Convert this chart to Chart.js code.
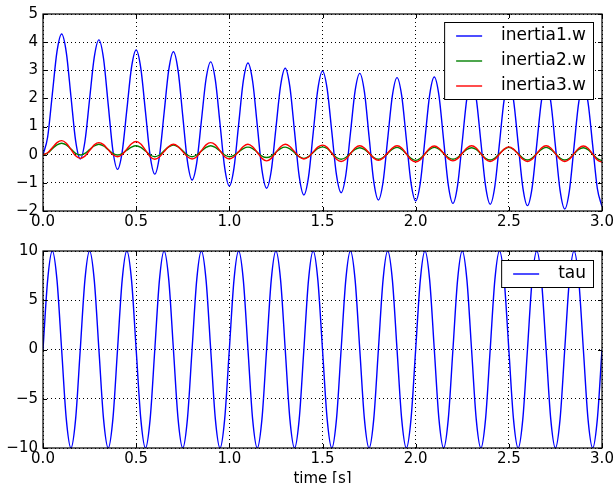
<!DOCTYPE html>
<html>
<head>
<meta charset="utf-8">
<script src="https://cdn.jsdelivr.net/npm/chart.js@4.4.0/dist/chart.umd.min.js"></script>
<style>
html, body { margin: 0; padding: 0; background: #fff; overflow: hidden; }
#top { position: absolute; left: 0; top: 0; }
#bottom { position: absolute; left: 0; top: 235px; }
</style>
</head>
<body>
<canvas id="top" width="616" height="235"></canvas>
<canvas id="bottom" width="616" height="252"></canvas>
<script>
// sample times [s]
const time = [
    0, 0.025, 0.05, 0.075, 0.1, 0.125, 0.15, 0.175,
    0.2, 0.225, 0.25, 0.275, 0.3, 0.325, 0.35, 0.375,
    0.4, 0.425, 0.45, 0.475, 0.5, 0.525, 0.55, 0.575,
    0.6, 0.625, 0.65, 0.675, 0.7, 0.725, 0.75, 0.775,
    0.8, 0.825, 0.85, 0.875, 0.9, 0.925, 0.95, 0.975,
    1.0, 1.025, 1.05, 1.075, 1.1, 1.125, 1.15, 1.175,
    1.2, 1.225, 1.25, 1.275, 1.3, 1.325, 1.35, 1.375,
    1.4, 1.425, 1.45, 1.475, 1.5, 1.525, 1.55, 1.575,
    1.6, 1.625, 1.65, 1.675, 1.7, 1.725, 1.75, 1.775,
    1.8, 1.825, 1.85, 1.875, 1.9, 1.925, 1.95, 1.975,
    2.0, 2.025, 2.05, 2.075, 2.1, 2.125, 2.15, 2.175,
    2.2, 2.225, 2.25, 2.275, 2.3, 2.325, 2.35, 2.375,
    2.4, 2.425, 2.45, 2.475, 2.5, 2.525, 2.55, 2.575,
    2.6, 2.625, 2.65, 2.675, 2.7, 2.725, 2.75, 2.775,
    2.8, 2.825, 2.85, 2.875, 2.9, 2.925, 2.95, 2.975,
    3.0
];

const inertia1 = [
    0, 0.63, 2.15, 3.66, 4.29, 3.64, 2.07, 0.50,
    -0.15, 0.47, 1.97, 3.46, 4.08, 3.41, 1.78, 0.15,
    -0.52, 0.10, 1.60, 3.10, 3.72, 3.07, 1.52, -0.04,
    -0.69, -0.05, 1.49, 3.02, 3.66, 2.99, 1.38, -0.23,
    -0.90, -0.29, 1.20, 2.69, 3.30, 2.65, 1.10, -0.46,
    -1.11, -0.47, 1.08, 2.62, 3.26, 2.61, 1.04, -0.54,
    -1.19, -0.57, 0.94, 2.45, 3.07, 2.41, 0.82, -0.77,
    -1.43, -0.79, 0.77, 2.33, 2.97, 2.34, 0.81, -0.72,
    -1.35, -0.73, 0.77, 2.27, 2.89, 2.23, 0.64, -0.95,
    -1.61, -0.97, 0.57, 2.10, 2.74, 2.10, 0.55, -1.00,
    -1.64, -1.00, 0.56, 2.12, 2.76, 2.10, 0.52, -1.07,
    -1.73, -1.09, 0.46, 2.01, 2.65, 2.00, 0.45, -1.11,
    -1.76, -1.12, 0.42, 1.96, 2.60, 1.95, 0.40, -1.16,
    -1.81, -1.17, 0.37, 1.91, 2.55, 1.89, 0.31, -1.27,
    -1.93, -1.28, 0.29, 1.85, 2.50, 1.86, 0.33, -1.20,
    -1.84
];

const inertia2 = [
    0, 0.06, 0.21, 0.35, 0.41, 0.35, 0.20, 0.05,
    -0.01, 0.05, 0.18, 0.31, 0.37, 0.31, 0.18, 0.05,
    -0.01, 0.04, 0.16, 0.27, 0.32, 0.26, 0.13, -0.01,
    -0.07, -0.01, 0.14, 0.28, 0.34, 0.28, 0.14, -0.01,
    -0.07, -0.01, 0.13, 0.26, 0.32, 0.26, 0.13, -0.01,
    -0.07, -0.02, 0.10, 0.22, 0.27, 0.22, 0.09, -0.05,
    -0.10, -0.05, 0.09, 0.22, 0.27, 0.21, 0.07, -0.07,
    -0.13, -0.07, 0.08, 0.22, 0.28, 0.22, 0.06, -0.10,
    -0.16, -0.10, 0.05, 0.19, 0.25, 0.19, 0.05, -0.10,
    -0.16, -0.10, 0.05, 0.20, 0.26, 0.19, 0.03, -0.13,
    -0.20, -0.13, 0.03, 0.19, 0.26, 0.20, 0.05, -0.10,
    -0.16, -0.10, 0.05, 0.19, 0.25, 0.19, 0.03, -0.13,
    -0.19, -0.12, 0.04, 0.19, 0.26, 0.19, 0.04, -0.12,
    -0.19, -0.12, 0.04, 0.19, 0.26, 0.19, 0.04, -0.12,
    -0.19, -0.13, 0.03, 0.19, 0.25, 0.18, 0.02, -0.14,
    -0.21
];

const inertia3 = [
    0, 0.07, 0.25, 0.43, 0.50, 0.41, 0.19, -0.04,
    -0.13, -0.05, 0.15, 0.35, 0.43, 0.36, 0.18, 0.00,
    -0.07, 0.01, 0.20, 0.39, 0.47, 0.38, 0.16, -0.07,
    -0.16, -0.08, 0.11, 0.29, 0.37, 0.29, 0.11, -0.07,
    -0.15, -0.07, 0.14, 0.35, 0.43, 0.35, 0.14, -0.07,
    -0.15, -0.07, 0.11, 0.29, 0.37, 0.28, 0.08, -0.13,
    -0.22, -0.13, 0.08, 0.28, 0.37, 0.29, 0.11, -0.07,
    -0.15, -0.08, 0.10, 0.27, 0.34, 0.26, 0.05, -0.16,
    -0.24, -0.16, 0.04, 0.24, 0.32, 0.24, 0.06, -0.12,
    -0.20, -0.12, 0.06, 0.24, 0.32, 0.24, 0.03, -0.18,
    -0.26, -0.18, 0.03, 0.23, 0.31, 0.23, 0.05, -0.14,
    -0.22, -0.14, 0.05, 0.24, 0.32, 0.24, 0.04, -0.16,
    -0.24, -0.16, 0.02, 0.20, 0.28, 0.20, 0.02, -0.16,
    -0.24, -0.16, 0.04, 0.24, 0.32, 0.24, 0.04, -0.16,
    -0.24, -0.16, 0.04, 0.23, 0.31, 0.23, 0.02, -0.19,
    -0.27
];

const tau = [
    0, 7.07, 10, 7.07, 0, -7.07, -10, -7.07,
    0, 7.07, 10, 7.07, 0, -7.07, -10, -7.07,
    0, 7.07, 10, 7.07, 0, -7.07, -10, -7.07,
    0, 7.07, 10, 7.07, 0, -7.07, -10, -7.07,
    0, 7.07, 10, 7.07, 0, -7.07, -10, -7.07,
    0, 7.07, 10, 7.07, 0, -7.07, -10, -7.07,
    0, 7.07, 10, 7.07, 0, -7.07, -10, -7.07,
    0, 7.07, 10, 7.07, 0, -7.07, -10, -7.07,
    0, 7.07, 10, 7.07, 0, -7.07, -10, -7.07,
    0, 7.07, 10, 7.07, 0, -7.07, -10, -7.07,
    0, 7.07, 10, 7.07, 0, -7.07, -10, -7.07,
    0, 7.07, 10, 7.07, 0, -7.07, -10, -7.07,
    0, 7.07, 10, 7.07, 0, -7.07, -10, -7.07,
    0, 7.07, 10, 7.07, 0, -7.07, -10, -7.07,
    0, 7.07, 10, 7.07, 0, -7.07, -10, -7.07,
    0
];

const xTicks = [0, 0.5, 1, 1.5, 2, 2.5, 3];
const yTicksTop = [-2, -1, 0, 1, 2, 3, 4, 5];
const yTicksBottom = [-10, -5, 0, 5, 10];

const FONT = 'DejaVu Sans';

function points(values) {
    return values.map((v, i) => ({ x: time[i], y: v }));
}

function minus(v) {
    return String(v).replace('-', '\u2212');
}

// frame, inward ticks and a matplotlib style legend box
const framePlugin = {
    id: 'frame',
    afterDatasetsDraw(chart) {
        const { ctx, chartArea: a } = chart;
        const xs = chart.scales.x, ys = chart.scales.y;
        ctx.save();
        ctx.strokeStyle = '#000';
        ctx.lineWidth = 1;
        ctx.beginPath();
        xs.ticks.forEach(t => {
            const px = Math.round(xs.getPixelForValue(t.value)) + 0.5;
            ctx.moveTo(px, a.bottom); ctx.lineTo(px, a.bottom - 4);
            ctx.moveTo(px, a.top); ctx.lineTo(px, a.top + 4);
        });
        ys.ticks.forEach(t => {
            const py = Math.round(ys.getPixelForValue(t.value)) + 0.5;
            ctx.moveTo(a.left, py); ctx.lineTo(a.left + 4, py);
            ctx.moveTo(a.right, py); ctx.lineTo(a.right - 4, py);
        });
        ctx.stroke();
        ctx.lineWidth = 1.2;
        ctx.strokeRect(a.left, a.top, a.right - a.left, a.bottom - a.top);

        const ds = chart.data.datasets;
        ctx.font = '17px "' + FONT + '"';
        let tw = 0;
        ds.forEach(d => { tw = Math.max(tw, ctx.measureText(d.label).width); });
        const w = 57 + tw + 7;
        const h = 27 + 25 * (ds.length - 1);
        const bx = a.right - 9 - w;
        const by = a.top + (ds.length > 1 ? 8 : 9);
        ctx.fillStyle = '#fff';
        ctx.fillRect(bx, by, w, h);
        ctx.lineWidth = 1;
        ctx.strokeRect(bx + 0.5, by + 0.5, w, h);
        ctx.textBaseline = 'middle';
        ds.forEach((d, i) => {
            const y = by + 14 + 25 * i;
            ctx.strokeStyle = d.borderColor;
            ctx.lineWidth = 1.4;
            ctx.beginPath();
            ctx.moveTo(bx + 12, y);
            ctx.lineTo(bx + 38, y);
            ctx.stroke();
            ctx.fillStyle = '#000';
            ctx.fillText(d.label, bx + 57, y);
        });
        ctx.restore();
    }
};

function scales(yTicks, xHeight, withTitle) {
    return {
        x: {
            type: 'linear',
            min: 0,
            max: 3,
            afterBuildTicks: s => { s.ticks = xTicks.map(v => ({ value: v })); },
            afterFit: s => { s.height = xHeight; },
            grid: { color: '#000', lineWidth: 1, drawTicks: false },
            border: { display: false, dash: [1, 3] },
            ticks: {
                autoSkip: false,
                maxRotation: 0,
                padding: 2,
                color: '#000',
                font: { family: FONT, size: 15 },
                callback: v => v.toFixed(1)
            },
            title: {
                display: withTitle,
                text: 'time [s]',
                color: '#000',
                font: { family: FONT, size: 15 },
                padding: { top: 0, bottom: -1 }
            }
        },
        y: {
            min: yTicks[0],
            max: yTicks[yTicks.length - 1],
            afterBuildTicks: s => { s.ticks = yTicks.map(v => ({ value: v })); },
            afterFit: s => { s.width = 43; },
            grid: { color: '#000', lineWidth: 1, drawTicks: false },
            border: { display: false, dash: [1, 3] },
            ticks: {
                autoSkip: false,
                padding: 5,
                color: '#000',
                font: { family: FONT, size: 15 },
                callback: v => minus(v)
            }
        }
    };
}

function line(label, values, color, order) {
    return {
        label: label,
        data: points(values),
        borderColor: color,
        backgroundColor: color,
        borderWidth: 1.4,
        pointRadius: 0,
        fill: false,
        cubicInterpolationMode: 'monotone',
        order: order
    };
}

new Chart(document.getElementById('top'), {
    type: 'line',
    data: {
        datasets: [
            line('inertia1.w', inertia1, '#0000ff', 3),
            line('inertia2.w', inertia2, '#008000', 2),
            line('inertia3.w', inertia3, '#ff0000', 1)
        ]
    },
    options: {
        responsive: false,
        animation: false,
        layout: { padding: { left: 0, right: 14, top: 14, bottom: 0 } },
        plugins: { legend: { display: false }, tooltip: { enabled: false } },
        scales: scales(yTicksTop, 24, false)
    },
    plugins: [framePlugin]
});

new Chart(document.getElementById('bottom'), {
    type: 'line',
    data: {
        datasets: [line('tau', tau, '#0000ff', 1)]
    },
    options: {
        responsive: false,
        animation: false,
        layout: { padding: { left: 0, right: 14, top: 16, bottom: 0 } },
        plugins: { legend: { display: false }, tooltip: { enabled: false } },
        scales: scales(yTicksBottom, 39, true)
    },
    plugins: [framePlugin]
});
</script>
</body>
</html>
